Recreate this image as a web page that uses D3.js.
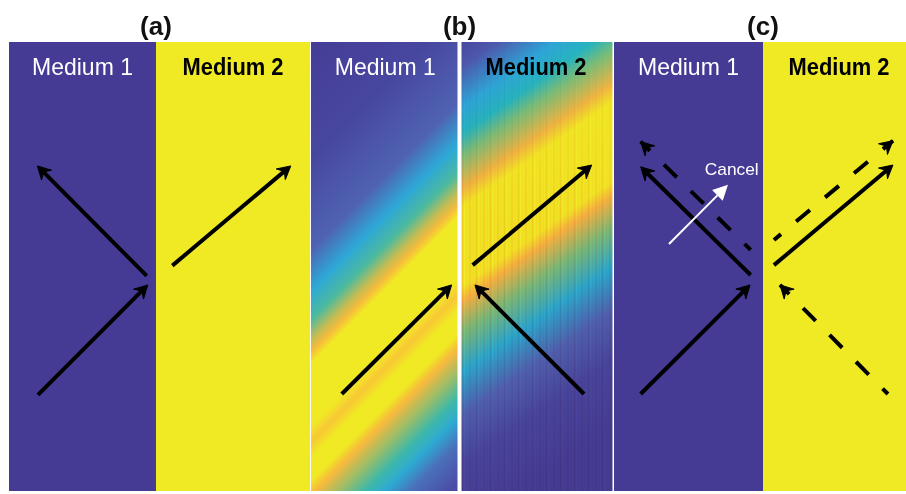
<!DOCTYPE html>
<html>
<head>
<meta charset="utf-8">
<script src="https://cdn.jsdelivr.net/npm/d3@7"></script>
<style>
  html, body { margin: 0; padding: 0; background: #ffffff; }
  svg { display: block; }
  text { font-family: "Liberation Sans", Arial, Helvetica, sans-serif; }
</style>
</head>
<body>
<svg id="chart" width="906" height="494"></svg>
<script>
// ---- content -------------------------------------------------------------
const panelTitles = ["(a)", "(b)", "(c)"];
const mediumNames = ["Medium 1", "Medium 2"];
const mediumLabelX = [-0.5, 0.5];      // centre of each medium (interface at 0)
const mediumLabelY = 0.926;

// arrows as [x0, y0, x1, y1] in panel units: x in [-1, 1] (interface at 0), y in [0, 1]
const arrowsA = [
  [-0.803, 0.214, -0.056, 0.459],   // incident
  [-0.063, 0.479, -0.807, 0.724],   // reflected
  [ 0.106, 0.502,  0.875, 0.724]    // transmitted
];
const arrowsB = [
  [-0.793, 0.216, -0.053, 0.459],
  [ 0.086, 0.503,  0.864, 0.726],
  [ 0.814, 0.216,  0.101, 0.459]
];
const arrowsCSolid = [
  [-0.821, 0.216, -0.087, 0.459],
  [-0.083, 0.481, -0.821, 0.722],
  [ 0.072, 0.503,  0.855, 0.726]
];
const arrowsCDashed = [
  [-0.083, 0.537, -0.821, 0.778],
  [ 0.072, 0.559,  0.855, 0.780],
  [ 0.822, 0.216,  0.112, 0.459]
];
const cancelArrow = [-0.631, 0.550, -0.235, 0.682];
const cancelText = "Cancel";
const cancelPos = [-0.21, 0.704];

// beam intensity across the field in (b), read along the centre column of each medium
const beam1Y     = [1.163, 0.902, 0.702, 0.612, 0.546, 0.501, 0.474, 0.448, 0.312, 0.274, 0.238, 0.189, 0.156, 0.100, 0.045, 0.000, -0.056, -0.145, -0.278];
const beam1Level = [0.02,  0.10,  0.28,  0.46,  0.60,  0.76,  0.88,  1.00,  1.00,  0.91,  1.00,  1.00,  0.87,  0.70,  0.58,  0.47,   0.32,   0.14,   0.03];
const beam1Angle = 45;   // degrees above horizontal
const beam2Y     = [1.142, 1.060, 0.970, 0.910, 0.862, 0.788, 0.747, 0.571, 0.538, 0.467, 0.380, 0.285, 0.176, 0.027];
const beam2Level = [0.05,  0.22,  0.45,  0.55,  0.66,  0.84,  1.00,  1.00,  0.85,  0.66,  0.48,  0.28,  0.10,  0.03];
const beam2Angle = 35;

// ---- styling ---------------------------------------------------------------
const purple = "#453b94";
const yellow = "#f0ea24";
const colormap = d3.scaleLinear()
  .domain([0, 0.15, 0.30, 0.45, 0.55, 0.65, 0.78, 0.86, 0.93, 1])
  .range(["#443a93", "#4a4ea6", "#5066b4", "#2ea6d8", "#27b5bf", "#72be7c", "#d4bc4c", "#f7b53f", "#f8cf33", "#f0ea24"])
  .clamp(true);

const panels = [
  { left: 9,   split: 156,   right: 310,   gap: 0 },
  { left: 311, split: 459.5, right: 612.5, gap: 2 },
  { left: 614, split: 763,   right: 915,   gap: 0 }
];
const yScale = d3.scaleLinear().domain([0, 1]).range([491, 42]);
panels.forEach(p => {
  p.x = d3.scaleLinear().domain([-1, 0, 1]).range([p.left, p.split, p.right]);
});

const svg = d3.select("#chart");
const defs = svg.append("defs");

// linear gradient for a beam whose bands rise at `angle`, sampled on column x = colX
function beamGradient(id, colX, ys, levels, angle) {
  const py = ys.map(v => yScale(v));
  const yMin = d3.min(py), yMax = d3.max(py);
  const span = yMax - yMin;
  const a = angle * Math.PI / 180;
  const nx = Math.sin(a), ny = Math.cos(a);
  const proj = span * Math.cos(a);
  const g = defs.append("linearGradient")
    .attr("id", id)
    .attr("gradientUnits", "userSpaceOnUse")
    .attr("x1", colX).attr("y1", yMin)
    .attr("x2", colX + nx * proj).attr("y2", yMin + ny * proj);
  const stops = py.map((y, i) => ({ off: (y - yMin) / span, c: colormap(levels[i]) }))
    .sort((s, t) => s.off - t.off);
  g.selectAll("stop").data(stops).join("stop")
    .attr("offset", d => d.off)
    .attr("stop-color", d => d.c);
}
beamGradient("beam1", panels[1].x(mediumLabelX[0]), beam1Y, beam1Level, beam1Angle);
beamGradient("beam2", panels[1].x(mediumLabelX[1]), beam2Y, beam2Level, beam2Angle);

// fine vertical striping in medium 2 of (b)
const stripe = defs.append("pattern")
  .attr("id", "stripes").attr("patternUnits", "userSpaceOnUse")
  .attr("x", panels[1].split + 2).attr("y", 0).attr("width", 14).attr("height", 10);
[[0, 2, 0.55], [4.5, 1.5, 0.3], [7.5, 2, 0.5], [11, 1.5, 0.35]].forEach(([x, w, o]) => {
  stripe.append("rect").attr("x", x).attr("y", 0).attr("width", w).attr("height", 10)
    .attr("fill", "#ffc0c8").attr("fill-opacity", o);
});
const fade = defs.append("linearGradient").attr("id", "stripeFade")
  .attr("gradientUnits", "userSpaceOnUse").attr("x1", 0).attr("y1", 42).attr("x2", 0).attr("y2", 220);
fade.append("stop").attr("offset", 0).attr("stop-color", "#fff").attr("stop-opacity", 0.1);
fade.append("stop").attr("offset", 1).attr("stop-color", "#fff").attr("stop-opacity", 1);
defs.append("mask").attr("id", "stripeMask").attr("maskUnits", "userSpaceOnUse")
  .append("rect").attr("x", 0).attr("y", 0).attr("width", 906).attr("height", 494).attr("fill", "url(#stripeFade)");

// ---- panels ----------------------------------------------------------------
const fills = [[purple, yellow], ["url(#beam1)", "url(#beam2)"], [purple, yellow]];
panels.forEach((p, i) => {
  const g = svg.append("g");
  const top = yScale(1), bottom = yScale(0);
  g.append("rect").attr("x", p.left).attr("y", top)
    .attr("width", p.split - p.gap - p.left).attr("height", bottom - top).attr("fill", fills[i][0]);
  g.append("rect").attr("x", p.split + p.gap).attr("y", top)
    .attr("width", p.right - p.split - p.gap).attr("height", bottom - top).attr("fill", fills[i][1]);
  if (i === 1) {
    g.append("rect").attr("x", p.split + p.gap).attr("y", top)
      .attr("width", p.right - p.split - p.gap).attr("height", bottom - top)
      .attr("fill", "url(#stripes)").attr("mask", "url(#stripeMask)")
      .style("mix-blend-mode", "multiply");
  }
  // title
  svg.append("text").attr("x", p.x(0)).attr("y", 35)
    .attr("text-anchor", "middle").attr("font-size", 26).attr("font-weight", "bold")
    .attr("fill", "#111").text(panelTitles[i]);
  // medium names
  mediumNames.forEach((name, k) => {
    svg.append("text").attr("x", p.x(mediumLabelX[k])).attr("y", yScale(mediumLabelY))
      .attr("text-anchor", "middle").attr("font-size", 24)
      .attr("font-weight", k === 0 ? "normal" : "bold")
      .attr("fill", k === 0 ? "#ffffff" : "#000000")
      .attr("textLength", 101).attr("lengthAdjust", "spacingAndGlyphs")
      .text(name);
  });
});

// ---- arrows ----------------------------------------------------------------
function arrow(g, p, a, opt) {
  const x0 = p.x(a[0]), y0 = yScale(a[1]), x1 = p.x(a[2]), y1 = yScale(a[3]);
  const dx = x1 - x0, dy = y1 - y0, len = Math.hypot(dx, dy);
  const ux = dx / len, uy = dy / len, px = -uy, py = ux;
  const L = opt.head, W = opt.half, N = opt.notch;
  const line = g.append("path")
    .attr("fill", "none").attr("stroke", opt.color).attr("stroke-width", opt.width)
    .attr("stroke-linecap", "butt");
  if (opt.dashed) {
    line.attr("d", d3.line()([[x1, y1], [x0, y0]]))
      .attr("stroke-dasharray", "18,19.7").attr("stroke-dashoffset", 5);
  } else {
    line.attr("d", d3.line()([[x0, y0], [x1 - ux * (L - N), y1 - uy * (L - N)]]));
  }
  g.append("path")
    .attr("d", d3.line()([
      [x1, y1],
      [x1 - ux * L + px * W, y1 - uy * L + py * W],
      [x1 - ux * (L - N), y1 - uy * (L - N)],
      [x1 - ux * L - px * W, y1 - uy * L - py * W]
    ]) + "Z")
    .attr("fill", opt.color)
    .attr("stroke", opt.color).attr("stroke-width", opt.headStroke || 0)
    .attr("stroke-linejoin", "miter");
}
const blackHead = { color: "#000", width: 4, head: 13, half: 7, notch: 4.5, headStroke: 1 };
const ga = svg.append("g");
arrowsA.forEach(a => arrow(ga, panels[0], a, blackHead));
arrowsB.forEach(a => arrow(ga, panels[1], a, blackHead));
arrowsCSolid.forEach(a => arrow(ga, panels[2], a, blackHead));
arrowsCDashed.forEach(a => arrow(ga, panels[2], a, Object.assign({}, blackHead, { dashed: true })));
arrow(ga, panels[2], cancelArrow, { color: "#fff", width: 2, head: 15, half: 7.5, notch: 0 });
svg.append("text").attr("x", panels[2].x(cancelPos[0])).attr("y", yScale(cancelPos[1]))
  .attr("text-anchor", "middle").attr("font-size", 17).attr("fill", "#fff")
  .attr("textLength", 54).attr("lengthAdjust", "spacingAndGlyphs").text(cancelText);
</script>
</body>
</html>
